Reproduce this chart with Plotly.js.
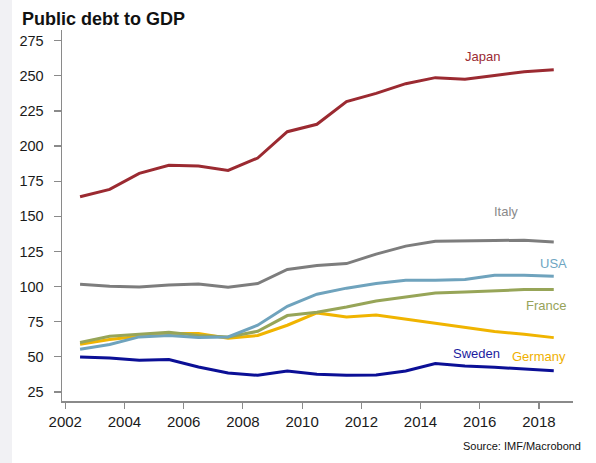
<!DOCTYPE html>
<html>
<head>
<meta charset="utf-8">
<script src="https://cdn.plot.ly/plotly-3.0.1.min.js"></script>
<style>html,body{margin:0;padding:0;background:#fff;}#chart{width:596px;height:463px;}</style>
</head>
<body>
<div id="chart"></div>
<script>
const years = [2002.5,2003.5,2004.5,2005.5,2006.5,2007.5,2008.5,2009.5,2010.5,2011.5,2012.5,2013.5,2014.5,2015.5,2016.5,2017.5,2018.5];
const japan   = [163.9,169.2,180.6,186.3,185.8,182.7,191.5,210.2,215.5,231.6,237.5,244.4,248.7,247.5,250.3,252.9,254.3];
const italy   = [101.7,100.3,99.8,101.2,101.9,99.6,102.2,112.2,115.0,116.4,123.1,128.8,132.3,132.3,132.8,133.0,131.8];
const usa     = [55.4,58.8,64.2,65.2,63.7,64.2,72.5,86.0,94.6,98.9,102.2,104.6,104.6,105.0,108.1,108.1,107.4];
const france  = [60.2,64.7,66.1,67.5,65.2,64.2,68.2,79.4,81.8,85.5,89.8,92.7,95.5,96.2,97.2,97.9,97.9];
const germany = [59.0,62.3,64.7,66.6,66.6,63.2,65.2,72.5,81.3,78.4,79.8,76.8,74.1,70.9,68.0,66.1,63.7];
const sweden  = [49.9,49.2,47.6,48.1,42.8,38.5,36.9,40.0,37.6,36.9,37.1,40.0,45.2,43.5,42.6,41.2,40.2];
const xTicks = [2002,2004,2006,2008,2010,2012,2014,2016,2018];
const yTicks = [25,50,75,100,125,150,175,200,225,250,275];

const series = [
  {name:'Japan',   y:japan,   color:'#9b2a31', lab:'#9b2a33', lx:2016.09, ly:264.1},
  {name:'Italy',   y:italy,   color:'#7d7d7d', lab:'#8a8a8a', lx:2016.9,  ly:153.2},
  {name:'USA',     y:usa,     color:'#6fa3bd', lab:'#6ea6c2', lx:2018.5,  ly:116.5},
  {name:'France',  y:france,  color:'#97a558', lab:'#97a35a', lx:2018.25, ly:86.8},
  {name:'Germany', y:germany, color:'#f0b400', lab:'#efb000', lx:2018.0,  ly:50.4},
  {name:'Sweden',  y:sweden,  color:'#0b0f96', lab:'#1c1ca0', lx:2015.89, ly:52.4}
];

const order = ['Germany','France','USA','Italy','Sweden','Japan'];
const traces = order.map(n => {
  const s = series.find(d => d.name === n);
  return {x: years, y: s.y, type:'scatter', mode:'lines', name:s.name,
          line:{color:s.color, width:3}, hoverinfo:'skip'};
});

const annotations = series.map(s => ({
  x: s.lx, y: s.ly, xref:'x', yref:'y', text: s.name, showarrow:false,
  font:{family:'Liberation Sans, Arial, sans-serif', size:13, color:s.lab},
  xanchor:'center', yanchor:'middle'
}));
annotations.push({
  x: 1.0196, y: -0.121, xref:'paper', yref:'paper', text:'Source: IMF/Macrobond',
  showarrow:false, xanchor:'right', yanchor:'middle',
  font:{family:'Liberation Sans, Arial, sans-serif', size:11, color:'#111'}
});

const layout = {
  width:596, height:463,
  margin:{l:62, r:23, t:30, b:62},
  paper_bgcolor:'#ffffff', plot_bgcolor:'#ffffff',
  showlegend:false,
  title:{text:'<b>Public debt to GDP</b>', x:22/596, xref:'container', xanchor:'left',
         y:1-18.3/463, yanchor:'middle',
         font:{family:'Liberation Sans, Arial, sans-serif', size:18, color:'#111'}},
  xaxis:{range:[2001.89,2019.15], tickvals:xTicks, ticktext:xTicks.map(String),
         showgrid:false, zeroline:false, showline:true, linecolor:'#8a8a8a', linewidth:1.5,
         ticks:'outside', ticklen:6, tickwidth:1.2, tickcolor:'#8a8a8a',
         tickfont:{family:'Liberation Sans, Arial, sans-serif', size:15, color:'#1a1a1a'}},
  yaxis:{range:[18.6,282.6], tickvals:yTicks, ticktext:yTicks.map(String),
         showgrid:false, zeroline:false, showline:true, linecolor:'#8a8a8a', linewidth:1.5,
         ticks:'outside', ticklen:7, tickwidth:1.2, tickcolor:'#8a8a8a',
         ticklabelstandoff:7,
         tickfont:{family:'Liberation Sans, Arial, sans-serif', size:14.5, color:'#1a1a1a'}},
  shapes:[{type:'rect', xref:'paper', yref:'paper', x0:-62/511, x1:-50/511, y0:-62/371, y1:1+30/371,
           fillcolor:'#f1f1f4', line:{width:0}, layer:'below'}],
  annotations: annotations
};

Plotly.newPlot('chart', traces, layout, {displayModeBar:false, staticPlot:true});
</script>
</body>
</html>
